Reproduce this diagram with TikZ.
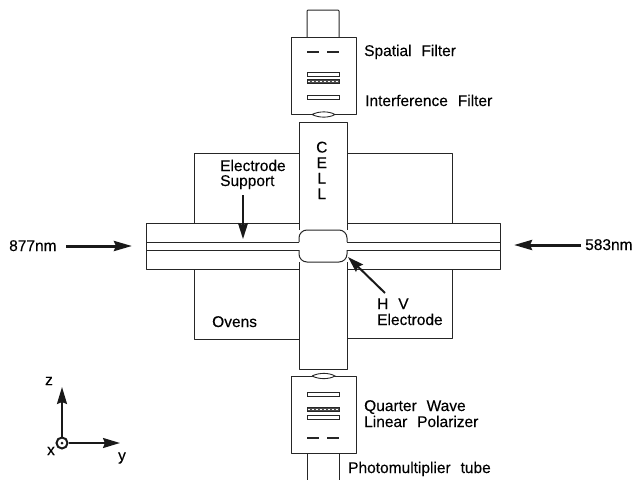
\documentclass[tikz,border=0pt]{standalone}
\usepackage{fontspec}
\setsansfont[WordSpace=2.3, FakeBold=0.25]{Liberation Sans}
\usetikzlibrary{arrows.meta}

\begin{document}
\begin{tikzpicture}[
    x=1pt, y=-1pt,
    font=\sffamily\fontsize{15.5}{15.5}\selectfont,
    every node/.style={align=left},
    %% outline of cell, ovens, filter boxes
    wall/.style={draw=black!85, line width=1pt, line join=round},
    %% thin optical element
    plate/.style={draw=black!85, line width=1pt, fill=white, minimum width=32pt, minimum height=4pt, inner sep=0pt, outer sep=0pt},
    %% coated element, drawn with a broken line inside
    coated/.style={plate, fill=black!70},
    %% slit of the spatial filter
    slit/.style={draw=black!85, line width=1.1pt},
    %% window between filter box and cell
    lens/.style={draw=black!85, line width=0.9pt, fill=white},
    %% pointer arrows
    pointer/.style={-{Stealth[length=16pt, width=10pt, inset=2pt]}, line width=2pt, draw=black!90},
    %% beam arrows
    beam/.style={pointer, line width=3pt, -{Stealth[length=18pt, width=10pt, inset=2pt]}},
    %% text labels
    lab/.style={anchor=base west, inner sep=0pt}
]
\useasboundingbox (0,0) rectangle (633,480);

%%-------------------------------------------------------------- ovens
\draw[wall] (299,153) -- (194,153) -- (194,223);
\draw[wall] (347,153) -- (452,153) -- (452,223);
\draw[wall] (194,269) -- (194,339) -- (299,339);
\draw[wall] (452,269) -- (452,338) -- (347,338);

%%-------------------------------------------------------------- cell and tube
\draw[wall] (299,230) -- (299,122) -- (347,122) -- (347,230);
\draw[wall] (299,262) -- (299,369) -- (347,369) -- (347,262);
\draw[wall] (299,223) -- (146,223) -- (146,269) -- (299,269);
\draw[wall] (347,223) -- (500,223) -- (500,269) -- (347,269);
\draw[wall] (146,242) -- (299,242);
\draw[wall] (146,250) -- (299,250);
\draw[wall] (347,242) -- (500,242);
\draw[wall] (347,250) -- (500,250);
\draw[wall, rounded corners=8pt] (299,242) -- (299,230) -- (347,230) -- (347,242);
\draw[wall, rounded corners=8pt] (299,250) -- (299,262) -- (347,262) -- (347,250);

%%-------------------------------------------------------------- upper filter stack
\draw[wall, rounded corners=1pt] (307,37) -- (307,10) -- (339,10) -- (339,37);
\draw[wall] (291,37) rectangle (356,114);
\draw[slit] (307,52) -- (319,52);
\draw[slit] (327,52) -- (339,52);
\node[plate]  (upperA) at (323.5,74) {};
\node[coated] (upperB) at (323.5,81) {};
\node[plate]  (upperC) at (323.5,97) {};
\draw[white, line width=1pt, dash pattern=on 2pt off 2pt] (upperB.west) -- (upperB.east);
\draw[lens] (312,114.5) .. controls (319,111) and (329,111) .. (335,114.5)
            .. controls (329,118) and (319,118) .. (312,114.5);

%%-------------------------------------------------------------- lower filter stack
\draw[wall] (307,453) -- (307,480);
\draw[wall] (339,453) -- (339,480);
\draw[wall] (291,376) rectangle (356,453);
\draw[slit] (307,438) -- (319,438);
\draw[slit] (327,438) -- (339,438);
\node[plate]  (lowerA) at (323.5,394) {};
\node[coated] (lowerB) at (323.5,409.5) {};
\node[plate]  (lowerC) at (323.5,417) {};
\draw[white, line width=1pt, dash pattern=on 2pt off 2pt] (lowerB.west) -- (lowerB.east);
\draw[lens] (312,376) .. controls (319,372.5) and (329,372.5) .. (335,376)
            .. controls (329,379.5) and (319,379.5) .. (312,376);

%%-------------------------------------------------------------- labels
\node[lab] (spatial)      at (364,56)  {Spatial Filter};
\node[lab] (interference) at (365,106) {Interference Filter};
\node[lab] (quarter)      at (364,411) {Quarter Wave};
\node[lab] (linear)       at (364,427) {Linear Polarizer};
\node[lab] (photo)        at (348,473) {Photomultiplier tube};
\node[lab] (ovens)        at (212,327) {Ovens};
\node[lab] (support)      at (220,186) {Electrode\\[-0.5pt]Support};
\node[lab] (hv)           at (377,325) {H V\\[0.5pt]Electrode};
\node[lab, align=center] (cell) at (316,199) {C\\E\\L\\L};
\node[lab] (redbeam)      at (9,251)   {877nm};
\node[lab] (bluebeam)     at (585,250) {583nm};

%%-------------------------------------------------------------- arrows
\coordinate (redtail)  at (66,246);
\coordinate (redtip)   at (132,246);
\coordinate (bluetail) at (581,245);
\coordinate (bluetip)  at (514,245);
\coordinate (supptail) at (243,195);
\coordinate (supptip)  at (243,239);
\coordinate (hvtail)   at (385,293);
\coordinate (hvtip)    at (348,257);
\draw[beam] (redtail) -- (redtip);
\draw[beam] (bluetail) -- (bluetip);
\draw[pointer] (supptail) -- (supptip);
\draw[pointer] (hvtail) -- (hvtip);

%%-------------------------------------------------------------- axes
\node[circle, draw=black!90, line width=2pt, minimum size=11pt, inner sep=0pt] (origin) at (62,443) {};
\node[circle, fill=black!90, minimum size=3pt, inner sep=0pt] (dot) at (origin) {};
\coordinate (ztip) at (62,387);
\coordinate (ytip) at (120,443);
\draw[pointer, -{Stealth[length=17pt, width=10pt, inset=2pt]}] (origin) -- (ztip);
\draw[pointer, -{Stealth[length=17pt, width=10pt, inset=2pt]}] (origin) -- (ytip);
\node[inner sep=0pt] (zlab) at (49,381) {z};
\node[inner sep=0pt] (ylab) at (122,458) {y};
\node[inner sep=0pt] (xlab) at (51,451) {x};
\end{tikzpicture}
\end{document}
